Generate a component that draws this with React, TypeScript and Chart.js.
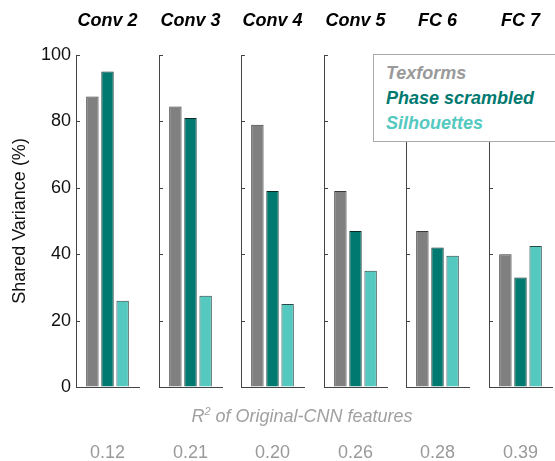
import React, { useEffect, useRef } from "react";
import { Chart, registerables } from "chart.js";

Chart.register(...registerables);

const layers = ["Conv 2", "Conv 3", "Conv 4", "Conv 5", "FC 6", "FC 7"];
const r2Labels = ["0.12", "0.21", "0.20", "0.26", "0.28", "0.39"];
const seriesNames = ["Texforms", "Phase scrambled", "Silhouettes"];
const texforms = [87.5, 84.5, 79, 59, 47, 40];
const phaseScrambled = [95, 81, 59, 47, 42, 33];
const silhouettes = [26, 27.5, 25, 35, 39.5, 42.5];
const yTicks = [0, 20, 40, 60, 80, 100];

const seriesValues = [texforms, phaseScrambled, silhouettes];
const fillColors = ["#808080", "#007a70", "#55c9c0"];
const edgeColors = ["#3a3a3a", "#0a2a28", "#2a4a48"];
const legendColors = ["#9a9a9a", "#007a70", "#55c9c0"];

const FONT = "'Liberation Sans', Arial, Helvetica, sans-serif";
const PANEL_X = [76, 158.5, 241, 323.5, 406, 489];
const PANEL_W = 63;
const BOTTOM = 387;
const CANVAS_H = 464;

const inwardTicks = {
  id: "inwardTicks",
  afterDraw(chart: any) {
    const y = chart.scales.y;
    const ctx = chart.ctx;
    const left = chart.chartArea.left;
    ctx.save();
    ctx.strokeStyle = "#444";
    ctx.lineWidth = 1;
    yTicks.forEach((v) => {
      const py = Math.round(y.getPixelForValue(v)) + 0.5;
      ctx.beginPath();
      ctx.moveTo(left, py);
      ctx.lineTo(left + 4, py);
      ctx.stroke();
    });
    ctx.restore();
  },
};

function Panel({ index }: { index: number }) {
  const ref = useRef<HTMLCanvasElement>(null);
  const first = index === 0;
  const leftPad = first ? PANEL_X[0] : 12;
  const width = leftPad + PANEL_W + 10;
  const left = PANEL_X[index] - leftPad;

  useEffect(() => {
    if (!ref.current) return;
    const chart = new Chart(ref.current, {
      type: "bar",
      data: {
        labels: [layers[index]],
        datasets: seriesNames.map((name, s) => ({
          label: name,
          data: [seriesValues[s][index]],
          backgroundColor: fillColors[s],
          borderColor: edgeColors[s],
          borderWidth: 1,
          categoryPercentage: 0.72,
          barPercentage: 0.82,
        })),
      },
      options: {
        animation: false,
        responsive: false,
        maintainAspectRatio: false,
        layout: { padding: { left: 0, right: 10, top: 0, bottom: 0 } },
        plugins: {
          legend: { display: false },
          tooltip: { enabled: false },
          title: {
            display: true,
            fullSize: false,
            text: layers[index],
            color: "#000",
            font: { family: FONT, size: 18, weight: "bold", style: "italic" },
            padding: { top: 10, bottom: 23.4 },
          },
        },
        scales: {
          x: {
            grid: { display: true, drawOnChartArea: false, drawTicks: false },
            border: { display: true, color: "#444", width: 1 },
            ticks: { display: false },
            title: {
              display: true,
              text: r2Labels[index],
              color: "#9a9a9a",
              font: { family: FONT, size: 18 },
              padding: { top: 0, bottom: 0 },
            },
            afterFit: (scale: any) => {
              scale.height = CANVAS_H - BOTTOM;
            },
          },
          y: {
            min: 0,
            max: 100,
            afterBuildTicks: (scale: any) => {
              scale.ticks = yTicks.map((v) => ({ value: v }));
            },
            grid: { display: true, drawOnChartArea: false, drawTicks: false },
            border: { display: true, color: "#444", width: 1 },
            ticks: {
              display: first,
              color: "#111",
              font: { family: FONT, size: 18 },
              padding: 5,
            },
            title: {
              display: first,
              text: "Shared Variance (%)",
              color: "#111",
              font: { family: FONT, size: 18 },
              padding: { top: 9, bottom: 0 },
            },
            afterFit: (scale: any) => {
              scale.width = leftPad;
            },
          },
        },
      },
      plugins: [inwardTicks],
    });
    return () => chart.destroy();
  }, [index]);

  return (
    <canvas
      ref={ref}
      width={width}
      height={CANVAS_H}
      style={{ position: "absolute", left, top: 0, width, height: CANVAS_H }}
    />
  );
}

export default function App() {
  return (
    <div
      style={{
        position: "absolute",
        left: 0,
        top: 0,
        width: 555,
        height: 461,
        overflow: "hidden",
        background: "#fff",
      }}
    >
      {layers.map((_, i) => (
        <Panel key={i} index={i} />
      ))}
      <div
        style={{
          position: "absolute",
          left: 373,
          top: 54,
          width: 200,
          height: 88,
          border: "1px solid #aaa",
          background: "#fff",
          boxSizing: "border-box",
          paddingLeft: 12,
          paddingTop: 6,
          fontFamily: FONT,
          fontWeight: "bold",
          fontStyle: "italic",
          fontSize: 18,
          lineHeight: "25px",
        }}
      >
        {seriesNames.map((n, i) => (
          <div key={n} style={{ color: legendColors[i], whiteSpace: "nowrap" }}>
            {n}
          </div>
        ))}
      </div>
      <div
        style={{
          position: "absolute",
          left: 2,
          width: 600,
          top: 405,
          textAlign: "center",
          fontFamily: FONT,
          fontStyle: "italic",
          fontSize: 18,
          color: "#a0a0a0",
          lineHeight: "22px",
          whiteSpace: "nowrap",
        }}
      >
        R<sup style={{ fontSize: 11, verticalAlign: "7px", lineHeight: 0 }}>2</sup> of Original-CNN features
      </div>
    </div>
  );
}
